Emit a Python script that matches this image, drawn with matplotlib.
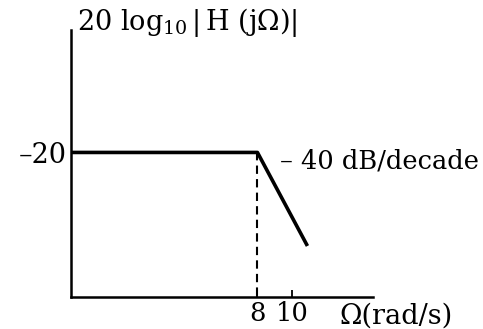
import numpy as np
import matplotlib.pyplot as plt

plt.rcParams['font.family'] = 'DejaVu Serif'
plt.rcParams['mathtext.fontset'] = 'dejavuserif'

# asymptotic magnitude response (dB) at a few frequencies (rad/s)
omega = [2.44, 8, 11]
mag_db = [-20, -20, -25.5]
xticks = [8, 10]
xtick_labels = ['8', '10']
break_freq = 8

fig = plt.figure(figsize=(4.83, 3.29), dpi=100)
ax = fig.add_axes([71 / 483, 1 - 297 / 329, 302 / 483, 267 / 329])

ax.plot(omega, mag_db, color='k', lw=2.6, solid_capstyle='butt')
ax.plot([break_freq, break_freq], [-20, -28.5], color='k', lw=1.5, ls=(0, (4, 2.5)))

ax.set_xscale('log')
ax.set_xlim(2.44, 16.7)
ax.set_ylim(-28.5, -12.8)

for s in ['top', 'right']:
    ax.spines[s].set_visible(False)
for s in ['left', 'bottom']:
    ax.spines[s].set_linewidth(1.8)

ax.minorticks_off()
ax.set_xticks(xticks)
ax.set_xticklabels(xtick_labels)
ax.tick_params(axis='x', direction='in', length=5, width=1.3, labelsize=18.5, pad=3)
ax.set_yticks([-20])
ax.set_yticklabels(['\u2013 20'.replace(' ', '')])
ax.tick_params(axis='y', length=0, labelsize=19.5, pad=3)

ax.text(9.25, -20.5, '\u2013 40 dB/decade', fontsize=18.5, va='center', ha='left')
ax.text(0.89, -0.02, '\u03a9(rad/s)', transform=ax.transAxes, fontsize=19.5,
        va='top', ha='left')
fig.text(77 / 483, 1 - 39 / 329, r'$20\ \log_{10}|\,\mathrm{H}\ (\mathrm{j}\Omega)|$',
         fontsize=19.5, va='bottom', ha='left')

fig.savefig('out.png', dpi=100)
